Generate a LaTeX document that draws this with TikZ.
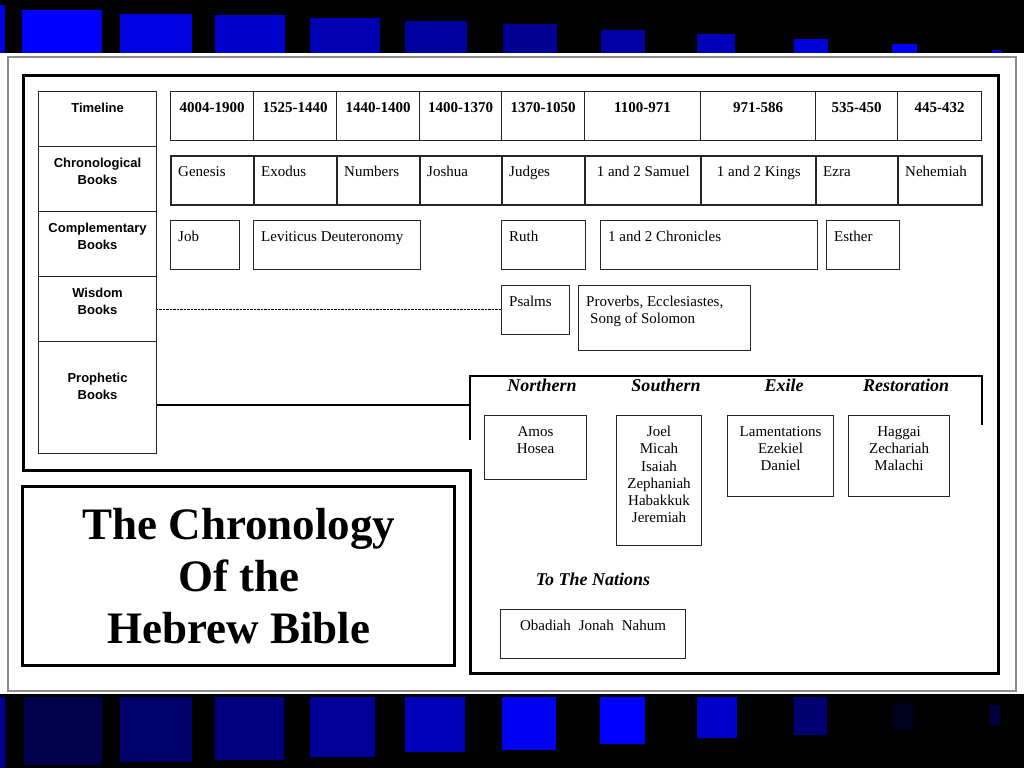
\documentclass[tikz,border=0pt]{standalone}
\usepackage{fontspec}
\setmainfont{Liberation Serif}
\setsansfont{Liberation Sans}

\begin{document}
\begin{tikzpicture}
		[
			x=1pt, y=-1pt,
			% Make a style for a plain box.
			cell/.style={draw=black!85, line width=1.1pt, anchor=north west, inner sep=0pt},
			% And one for the heavier row of chronological books.
			chrono/.style={cell, line width=2.4pt},
			% Texts inside the boxes.
			booklabel/.style={anchor=north west, inner sep=0pt, xshift=8pt, yshift=-11pt, font=\fontsize{15}{17.2}\selectfont},
			midlabel/.style={anchor=north, inner sep=0pt, yshift=-11pt, align=center, font=\fontsize{15}{17.2}\selectfont},
			datelabel/.style={midlabel, font=\bfseries\fontsize{15}{17.2}\selectfont},
			rowlabel/.style={anchor=north, inner sep=0pt, yshift=-12pt, align=center, font=\sffamily\bfseries\fontsize{13}{17}\selectfont},
			period/.style={inner sep=0pt, font=\bfseries\itshape\fontsize{18}{20}\selectfont}
		]
			\useasboundingbox (0,0) rectangle (1024,768);
			
			% Black bands with blue squares.
			\fill[black] (0,0) rectangle (1024,53);
			\fill[black] (0,694) rectangle (1024,768);
			\foreach \xa/\xb/\t/\p in {0/5/5/90, 22/102/10/100, 120/192/14/88, 215/285/15/80, 310/380/18/70, 405/467/21/62, 503/557/24/58, 601/645/30/65, 697/735/34/72, 794/828/39/85, 892/917/44/95, 992/1002/50/80}
				\fill[blue!\p!black] (\xa,\t) rectangle (\xb,53);
			\foreach \xa/\xb/\t/\b/\p in {0/5/697/768/60, 24/102/697/765/30, 120/192/697/762/42, 215/284/697/760/50, 310/375/697/757/60, 405/465/697/752/72, 502/556/697/750/95, 600/645/697/744/100, 697/737/697/738/80, 794/827/697/735/45, 892/914/703/730/12, 990/1000/705/725/25}
				\fill[blue!\p!black] (\xa,\t) rectangle (\xb,\b);
			
			% Panel and frames.
			\draw[black!45, line width=1.5pt] (8,57) rectangle (1016,691);
			\draw[line width=3pt] (23,75) -- (998,75) -- (998,673) -- (470,673) -- (470,470) -- (23,470) -- cycle;
			\draw[line width=3pt] (22,486) rectangle (454,665);
			\node[align=center, font=\bfseries\fontsize{45}{52}\selectfont] (title) at (239,576) {The Chronology\\Of the\\Hebrew Bible};
			
			% Row heads.
			\node[cell, minimum width=118, minimum height=55, label={[rowlabel]north:Timeline}] (timeline) at (38,91) {};
			\node[cell, minimum width=118, minimum height=65, label={[rowlabel]north:{Chronological\\Books}}] (chronological) at (38,146) {};
			\node[cell, minimum width=118, minimum height=65, label={[rowlabel]north:{Complementary\\Books}}] (complementary) at (38,211) {};
			\node[cell, minimum width=118, minimum height=65, label={[rowlabel]north:{Wisdom\\Books}}] (wisdom) at (38,276) {};
			\node[cell, minimum width=118, minimum height=112, label={[rowlabel, yshift=-20pt]north:{Prophetic\\Books}}] (prophetic) at (38,341) {};
			
			% Timeline.
			\node[cell, minimum width=83, minimum height=49, label={[datelabel]north:4004-1900}] (d1) at (170,91) {};
			\node[cell, minimum width=83, minimum height=49, label={[datelabel]north:1525-1440}] (d2) at (253,91) {};
			\node[cell, minimum width=83, minimum height=49, label={[datelabel]north:1440-1400}] (d3) at (336,91) {};
			\node[cell, minimum width=82, minimum height=49, label={[datelabel]north:1400-1370}] (d4) at (419,91) {};
			\node[cell, minimum width=83, minimum height=49, label={[datelabel]north:1370-1050}] (d5) at (501,91) {};
			\node[cell, minimum width=116, minimum height=49, label={[datelabel]north:1100-971}] (d6) at (584,91) {};
			\node[cell, minimum width=115, minimum height=49, label={[datelabel]north:971-586}] (d7) at (700,91) {};
			\node[cell, minimum width=82, minimum height=49, label={[datelabel]north:535-450}] (d8) at (815,91) {};
			\node[cell, minimum width=84, minimum height=49, label={[datelabel]north:445-432}] (d9) at (897,91) {};
			
			% Chronological books.
			\node[chrono, minimum width=83, minimum height=49, label={[booklabel]north west:Genesis}] (genesis) at (170,155) {};
			\node[chrono, minimum width=83, minimum height=49, label={[booklabel]north west:Exodus}] (exodus) at (253,155) {};
			\node[chrono, minimum width=83, minimum height=49, label={[booklabel]north west:Numbers}] (numbers) at (336,155) {};
			\node[chrono, minimum width=82, minimum height=49, label={[booklabel]north west:Joshua}] (joshua) at (419,155) {};
			\node[chrono, minimum width=83, minimum height=49, label={[booklabel]north west:Judges}] (judges) at (501,155) {};
			\node[chrono, minimum width=116, minimum height=49, label={[midlabel]north:1 and 2 Samuel}] (samuel) at (584,155) {};
			\node[chrono, minimum width=115, minimum height=49, label={[midlabel]north:1 and 2 Kings}] (kings) at (700,155) {};
			\node[chrono, minimum width=82, minimum height=49, label={[booklabel]north west:Ezra}] (ezra) at (815,155) {};
			\node[chrono, minimum width=84, minimum height=49, label={[booklabel]north west:Nehemiah}] (nehemiah) at (897,155) {};
			
			% Complementary books.
			\node[cell, minimum width=69, minimum height=49, label={[booklabel]north west:Job}] (job) at (170,220) {};
			\node[cell, minimum width=167, minimum height=49, label={[booklabel]north west:Leviticus Deuteronomy}] (leviticus) at (253,220) {};
			\node[cell, minimum width=84, minimum height=49, label={[booklabel]north west:Ruth}] (ruth) at (501,220) {};
			\node[cell, minimum width=217, minimum height=49, label={[booklabel]north west:1 and 2 Chronicles}] (chronicles) at (600,220) {};
			\node[cell, minimum width=73, minimum height=49, label={[booklabel]north west:Esther}] (esther) at (826,220) {};
			
			% Wisdom books.
			\node[cell, minimum width=68, minimum height=49, label={[booklabel]north west:Psalms}] (psalms) at (501,285) {};
			\node[cell, minimum width=172, minimum height=65, label={[booklabel, align=left]north west:{Proverbs, Ecclesiastes,\\\hspace{4pt}Song of Solomon}}] (proverbs) at (578,285) {};
			\draw[densely dotted] (wisdom.east) -- (wisdom.east -| psalms.west);
			
			% Prophetic books.
			\coordinate (fork) at (470,405);
			\draw[line width=1.1pt] (prophetic.east |- fork) -- (fork);
			\draw[line width=1.1pt] (470,440) -- (470,376) -- (982,376) -- (982,425);
			\node[period] (northern) at (542,385) {Northern};
			\node[period] (southern) at (666,385) {Southern};
			\node[period] (exile) at (784,385) {Exile};
			\node[period] (restoration) at (906,385) {Restoration};
			\node[cell, minimum width=102, minimum height=64, label={[midlabel]north:{Amos\\Hosea}}] (amos) at (484,415) {};
			\node[cell, minimum width=85, minimum height=130, label={[midlabel]north:{Joel\\Micah\\Isaiah\\Zephaniah\\Habakkuk\\Jeremiah}}] (joel) at (616,415) {};
			\node[cell, minimum width=106, minimum height=81, label={[midlabel]north:{Lamentations\\Ezekiel\\Daniel}}] (lamentations) at (727,415) {};
			\node[cell, minimum width=101, minimum height=81, label={[midlabel]north:{Haggai\\Zechariah\\Malachi}}] (haggai) at (848,415) {};
			\node[period] (nations) at (593,579) {To The Nations};
			\node[cell, minimum width=185, minimum height=49, label={[midlabel]north:Obadiah\hspace{8pt}Jonah\hspace{8pt}Nahum}] (obadiah) at (500,609) {};
		\end{tikzpicture}
\end{document}
